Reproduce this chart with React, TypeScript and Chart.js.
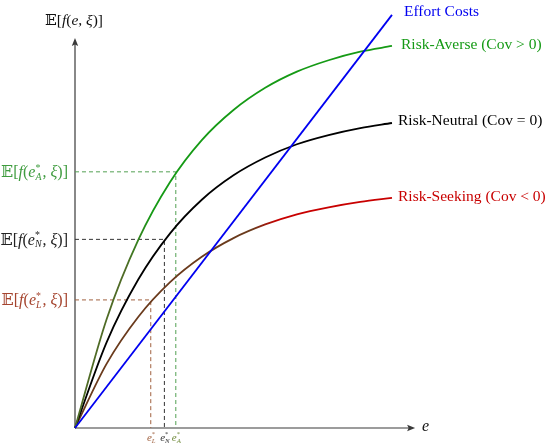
import { useEffect, useRef } from "react";
import { Chart, registerables } from "chart.js";

Chart.register(...registerables);

// ---- data ----
const effortE = [0, 10];
const effortCost = [0, 13.03];
const eGrid = [0, 1, 2, 3, 4, 5, 6, 7, 8, 9, 10];
const riskAverse = [0, 3.44, 5.94, 7.76, 9.08, 10.03, 10.73, 11.24, 11.6, 11.87, 12.05];
const riskNeutral = [0, 2.71, 4.69, 6.14, 7.2, 7.97, 8.53, 8.95, 9.24, 9.46, 9.62];
const riskSeeking = [0, 2.03, 3.51, 4.6, 5.4, 5.99, 6.42, 6.74, 6.96, 7.13, 7.26];
// optimal effort levels (A, N, L) and their expected outputs
const optimumKeys = ["A", "N", "L"];
const optimumE = [3.18, 2.82, 2.39];
const optimumF = [8.08, 5.95, 4.04];
const seriesLabels = [
  "Effort Costs",
  "Risk-Averse (Cov > 0)",
  "Risk-Neutral (Cov = 0)",
  "Risk-Seeking (Cov < 0)",
];

// ---- styles ----
const BLUE = "#0000f0";
const GREEN = "#159a15";
const OLIVE = "#4f6b26";
const BLACK = "#000000";
const RED = "#c80000";
const BROWN = "#6a3a1c";
const AXIS = "#3a3a3a";
const optColors = ["#3f9c3f", "#222222", "#a5442e"];
const optDash = ["#52a052", "#333333", "#a0603f"];
const tickColors = ["#6f8a3a", "#333333", "#a0603f"];
const SERIF = '"Liberation Serif", "DejaVu Serif", "DejaVu Sans", serif';

type Seg = { t: string; it?: boolean; sup?: string; sub?: string };

function font(size: number, it?: boolean) {
  return `${it ? "italic " : ""}${size}px ${SERIF}`;
}

function segWidth(ctx: CanvasRenderingContext2D, s: Seg, size: number) {
  ctx.font = font(size, s.it);
  let w = ctx.measureText(s.t).width;
  if (s.sup || s.sub) {
    const ss = size * 0.62;
    ctx.font = font(ss, false);
    const w1 = s.sup ? ctx.measureText(s.sup).width : 0;
    ctx.font = font(ss, true);
    const w2 = s.sub ? ctx.measureText(s.sub).width : 0;
    w += Math.max(w1, w2) + 1;
  }
  return w;
}

function drawRich(
  ctx: CanvasRenderingContext2D,
  segs: Seg[],
  x: number,
  y: number,
  size: number,
  color: string,
  align: "left" | "right" | "center"
) {
  const total = segs.reduce((a, s) => a + segWidth(ctx, s, size), 0);
  let cx = align === "left" ? x : align === "right" ? x - total : x - total / 2;
  ctx.save();
  ctx.fillStyle = color;
  ctx.textBaseline = "middle";
  ctx.textAlign = "left";
  for (const s of segs) {
    ctx.font = font(size, s.it);
    ctx.fillText(s.t, cx, y);
    let w = ctx.measureText(s.t).width;
    if (s.sup || s.sub) {
      const ss = size * 0.62;
      let w1 = 0;
      let w2 = 0;
      if (s.sup) {
        ctx.font = font(ss, false);
        ctx.fillText(s.sup, cx + w, y - size * 0.3);
        w1 = ctx.measureText(s.sup).width;
      }
      if (s.sub) {
        ctx.font = font(ss, true);
        ctx.fillText(s.sub, cx + w, y + size * 0.28);
        w2 = ctx.measureText(s.sub).width;
      }
      w += Math.max(w1, w2) + 1;
    }
    cx += w;
  }
  ctx.restore();
}

function expLabel(key?: string): Seg[] {
  return [
    { t: "𝔼" },
    { t: "[" },
    { t: "f", it: true },
    { t: "(" },
    key ? { t: "e", it: true, sup: "*", sub: key } : { t: "e", it: true },
    { t: ", " },
    { t: "ξ", it: true },
    { t: ")]" },
  ];
}

function arrow(ctx: CanvasRenderingContext2D, x: number, y: number, dir: "up" | "right") {
  ctx.beginPath();
  if (dir === "up") {
    ctx.moveTo(x, y);
    ctx.lineTo(x - 3.2, y + 8);
    ctx.lineTo(x, y + 6.5);
    ctx.lineTo(x + 3.2, y + 8);
  } else {
    ctx.moveTo(x, y);
    ctx.lineTo(x - 8, y - 3.2);
    ctx.lineTo(x - 6.5, y);
    ctx.lineTo(x - 8, y + 3.2);
  }
  ctx.closePath();
  ctx.fill();
}

function gradientColor(from: string, to: string, switchE: number) {
  return (c: any) => {
    const ch = c.chart;
    const xs = ch.scales && ch.scales.x;
    if (!ch.chartArea || !xs) return to;
    const x0 = xs.getPixelForValue(0);
    const x1 = xs.getPixelForValue(10);
    const t = (xs.getPixelForValue(switchE) - x0) / (x1 - x0);
    const g = ch.ctx.createLinearGradient(x0, 0, x1, 0);
    g.addColorStop(0, from);
    g.addColorStop(Math.max(0, t - 0.04), from);
    g.addColorStop(Math.min(1, t + 0.04), to);
    g.addColorStop(1, to);
    return g;
  };
}

const pts = (xs: number[], ys: number[]) => xs.map((x, i) => ({ x, y: ys[i] }));

export default function App() {
  const ref = useRef<HTMLCanvasElement | null>(null);

  useEffect(() => {
    if (!ref.current) return;

    const decor = {
      id: "decor",
      beforeDatasetsDraw(chart: any) {
        const { ctx } = chart;
        const xs = chart.scales.x;
        const ys = chart.scales.y;
        const ox = xs.getPixelForValue(0);
        const oy = ys.getPixelForValue(0);
        ctx.save();
        ctx.strokeStyle = AXIS;
        ctx.fillStyle = AXIS;
        ctx.lineWidth = 1.2;
        const topY = ys.getPixelForValue(12.3);
        const rightX = xs.getPixelForValue(10.73);
        ctx.beginPath();
        ctx.moveTo(ox, oy);
        ctx.lineTo(ox, topY + 5);
        ctx.moveTo(ox, oy);
        ctx.lineTo(rightX - 5, oy);
        ctx.stroke();
        arrow(ctx, ox, topY, "up");
        arrow(ctx, rightX, oy, "right");
        ctx.restore();
      },
      afterDraw(chart: any) {
        const { ctx } = chart;
        const xs = chart.scales.x;
        const ys = chart.scales.y;
        const ox = xs.getPixelForValue(0);
        const oy = ys.getPixelForValue(0);
        const topY = ys.getPixelForValue(12.3);
        const rightX = xs.getPixelForValue(10.73);
        // axis titles
        drawRich(ctx, expLabel(), ox - 1, topY - 17, 15.5, "#111", "center");
        ctx.save();
        ctx.font = font(16, true);
        ctx.fillStyle = "#111";
        ctx.textBaseline = "middle";
        ctx.fillText("e", rightX + 7, oy - 1);
        ctx.restore();
        // optimum labels
        optimumKeys.forEach((k, i) => {
          const py = ys.getPixelForValue(optimumF[i]);
          drawRich(ctx, expLabel(k), ox - 7, py + 1, 16, optColors[i], "right");
          const px = xs.getPixelForValue(optimumE[i]);
          drawRich(ctx, [{ t: "e", it: true, sup: "*", sub: k }], px + 1, oy + 10, 11, tickColors[i], "center");
        });
        // series labels at curve ends
        const ends = [effortCost[1], riskAverse[10], riskNeutral[10], riskSeeking[10]];
        const cols = [BLUE, GREEN, BLACK, RED];
        const dx = [12, 9, 6, 6];
        const dy = [-3, -1, -2, -1];
        const ex = xs.getPixelForValue(10);
        ctx.save();
        ctx.font = font(15.5, false);
        ctx.textBaseline = "middle";
        seriesLabels.forEach((lab, i) => {
          ctx.fillStyle = cols[i];
          ctx.fillText(lab, ex + dx[i], ys.getPixelForValue(ends[i]) + dy[i]);
        });
        ctx.restore();
      },
    };

    const dashed = optimumE.map((e, i) => ({
      data: [
        { x: 0, y: optimumF[i] },
        { x: e, y: optimumF[i] },
        { x: e, y: 0 },
      ],
      borderColor: optDash[i],
      borderWidth: 1,
      borderDash: [4, 3],
      pointRadius: 0,
      tension: 0,
      order: 5,
      showLine: true,
    }));

    const chart = new Chart(ref.current, {
      type: "scatter",
      data: {
        datasets: [
          {
            label: seriesLabels[0],
            data: pts(effortE, effortCost),
            showLine: true,
            borderColor: BLUE,
            borderWidth: 1.8,
            pointRadius: 0,
            order: 1,
          },
          {
            label: seriesLabels[1],
            data: pts(eGrid, riskAverse),
            showLine: true,
            borderColor: gradientColor(OLIVE, GREEN, 2.0) as any,
            borderWidth: 1.8,
            pointRadius: 0,
            cubicInterpolationMode: "monotone",
            order: 2,
          },
          {
            label: seriesLabels[2],
            data: pts(eGrid, riskNeutral),
            showLine: true,
            borderColor: BLACK,
            borderWidth: 1.8,
            pointRadius: 0,
            cubicInterpolationMode: "monotone",
            order: 2,
          },
          {
            label: seriesLabels[3],
            data: pts(eGrid, riskSeeking),
            showLine: true,
            borderColor: gradientColor(BROWN, RED, 6.0) as any,
            borderWidth: 1.8,
            pointRadius: 0,
            cubicInterpolationMode: "monotone",
            order: 2,
          },
          ...(dashed as any[]),
        ],
      },
      options: {
        responsive: false,
        animation: false,
        events: [],
        layout: { padding: 0 },
        plugins: { legend: { display: false }, tooltip: { enabled: false } },
        scales: {
          x: { type: "linear", min: -2.366, max: 14.985, display: false },
          y: { type: "linear", min: -0.631, max: 13.5, display: false },
        },
      },
      plugins: [decor],
    } as any);

    return () => chart.destroy();
  }, []);

  return (
    <div style={{ position: "absolute", left: 0, top: 0, width: 550, height: 448, background: "#fff" }}>
      <canvas ref={ref} width={550} height={448} />
    </div>
  );
}
